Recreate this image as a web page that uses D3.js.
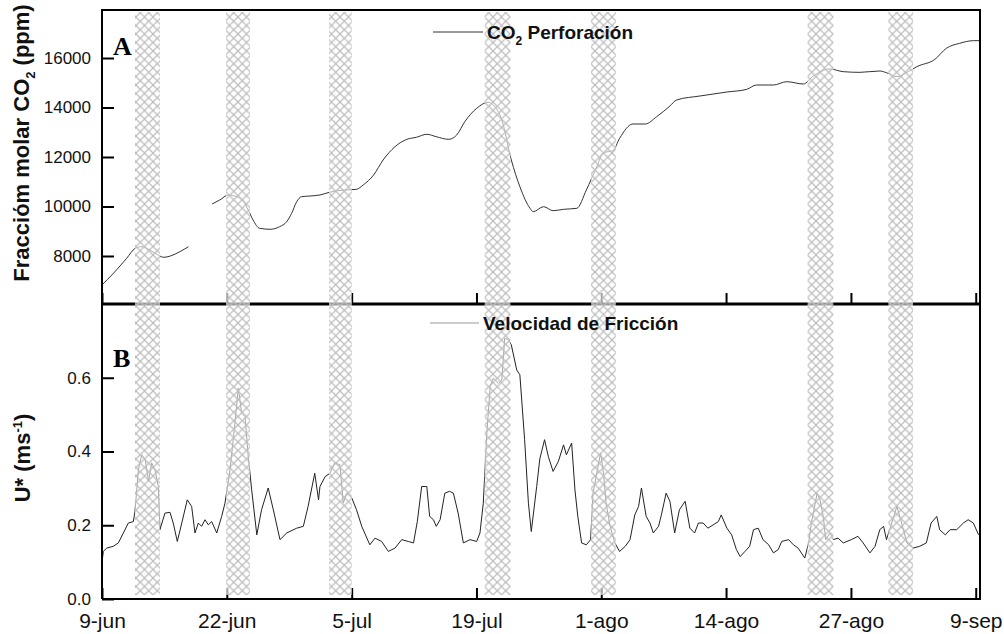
<!DOCTYPE html>
<html>
<head>
<meta charset="utf-8">
<script src="https://cdn.jsdelivr.net/npm/d3@7"></script>
<style>
  body { margin: 0; background: #fff; }
  text { font-family: "Liberation Sans", Arial, sans-serif; }
</style>
</head>
<body>
<script>
// dates as days after 9-jun
var tickDays = [0, 13.14, 26.29, 39.43, 52.57, 65.71, 78.86, 92];
var tickLabels = ["9-jun", "22-jun", "5-jul", "19-jul", "1-ago", "14-ago", "27-ago", "9-sep"];

// hatched periods (start / end day)
var bandStart = [3.47, 13.06, 23.9, 40.3, 51.5, 74.3, 82.8];
var bandEnd   = [6.11, 15.58, 26.3, 43.0, 54.1, 77.0, 85.4];

// panel A: CO2 in the borehole (null = no data)
var co2Day = [0, 1.2, 2.6, 3.5, 4.2, 4.7, 5.6, 6.5, 7.2, 8.2,
  9.1, 10.3, 11.6, 12.4, 13.3, 14.2, 14.9, 15.4, 15.9, 16.6,
  17.7, 18.7, 19.45, 19.97, 20.5, 21.0, 21.9, 22.95, 24.0, 25.06,
  26.8, 27.5, 28.6, 29.6, 30.85, 32.1, 33.1, 34.2, 35.2, 36.5,
  37.35, 38.2, 39.45, 40.7, 41.2, 42.1, 43.1, 44.0, 45.07, 45.4,
  46.5, 47.5, 48.6, 50.0, 51.0, 52.1, 52.8, 53.8, 54.5, 55.9,
  57.2, 58.4, 59.8, 60.5, 62.97, 65.8, 67.9, 68.9, 70.7, 72.1,
  73.85, 74.9, 76.65, 78.05, 79.8, 81.9, 82.6, 83.7, 84.9, 85.8,
  87.7, 88.9, 90.3, 91.75, 92.45];
var co2Val = [6830, 7300, 7907, 8311, 8376, 8311, 8109, 7947, 8000, 8175,
  8376, null, 10101, 10263, 10465, 10396, 10194, 9859, 9455, 9119,
  9079, 9184, 9386, 9725, 10194, 10396, 10424, 10465, 10580, 10650,
  10694, 10869, 11273, 11879, 12416, 12714, 12796, 12917, 12820, 12714,
  12889, 13426, 13967, 14210, 14101, 13495, 11879, 10800, 9927, 9790,
  9992, 9830, 9886, 9927, 10667, 11608, 12174, 12255, 12754, 13333,
  13333, 13628, 14061, 14303, 14465, 14626, 14735, 14909, 14909, 15043,
  14950, 15273, 15556, 15448, 15421, 15475, 15407, 15245, 15448, 15650,
  15946, 16391, 16593, 16700, 16700];

// panel B: friction velocity
var uDay = [0, 0.14, 0.5, 1.19, 1.72, 2.25, 2.77, 3.3, 3.47, 3.83,
  4.18, 4.55, 4.9, 5.23, 5.58, 5.93, 6.1, 6.63, 7.16, 7.5,
  7.93, 8.4, 8.98, 9.44, 9.79, 10.14, 10.49, 10.85, 11.2, 11.55,
  12.08, 12.6, 12.95, 13.48, 14.0, 14.35, 14.71, 15.06, 15.4, 15.76,
  16.3, 16.8, 17.5, 18.04, 18.74, 19.45, 20.5, 21.2, 21.7, 22.4,
  22.8, 22.95, 23.5, 24.0, 24.5, 25.06, 25.4, 25.77, 26.3, 26.8,
  27.35, 28.2, 28.75, 29.45, 30.15, 30.85, 31.56, 32.25, 32.8, 33.2,
  33.66, 34.2, 34.5, 34.9, 35.2, 35.6, 36.1, 36.6, 37.0, 37.5,
  38.05, 38.75, 39.45, 39.8, 40.15, 40.5, 40.87, 41.2, 41.75, 42.1,
  42.4, 42.8, 43.1, 43.67, 44.0, 44.5, 44.9, 45.2, 45.77, 46.1,
  46.6, 47.0, 47.5, 48.05, 48.6, 48.9, 49.45, 49.8, 50.1, 50.5,
  51.0, 51.45, 51.7, 52.1, 52.5, 52.8, 53.1, 53.5, 54.0, 54.5,
  55.1, 55.6, 56.1, 56.5, 56.8, 57.3, 57.7, 58.05, 58.6, 58.9,
  59.4, 59.8, 60.3, 60.8, 61.4, 61.9, 62.4, 62.8, 63.3, 63.8,
  64.35, 64.9, 65.2, 65.8, 66.3, 66.8, 67.2, 67.7, 68.2, 68.6,
  69.1, 69.6, 70.2, 70.7, 71.2, 71.57, 72.3, 72.8, 73.3, 74.0,
  74.4, 74.7, 75.3, 75.6, 75.95, 76.2, 76.66, 77.0, 77.5, 78.05,
  78.9, 79.6, 80.15, 80.86, 81.4, 81.9, 82.3, 82.6, 83.15, 83.7,
  84.2, 84.75, 85.4, 86.1, 86.8, 87.3, 87.9, 88.2, 88.8, 89.3,
  90.0, 90.7, 91.2, 91.75, 92.3];
var uVal = [0.100, 0.129, 0.138, 0.143, 0.152, 0.179, 0.206, 0.210, 0.237, 0.350,
  0.391, 0.378, 0.319, 0.369, 0.350, 0.305, 0.188, 0.233, 0.235, 0.206,
  0.156, 0.206, 0.269, 0.251, 0.179, 0.206, 0.197, 0.215, 0.201, 0.210,
  0.179, 0.224, 0.260, 0.350, 0.477, 0.572, 0.504, 0.495, 0.386, 0.296,
  0.174, 0.242, 0.301, 0.242, 0.161, 0.179, 0.192, 0.197, 0.251, 0.341,
  0.269, 0.305, 0.332, 0.341, 0.369, 0.364, 0.260, 0.287, 0.274, 0.242,
  0.197, 0.147, 0.165, 0.156, 0.129, 0.138, 0.161, 0.156, 0.152, 0.210,
  0.305, 0.305, 0.224, 0.215, 0.197, 0.215, 0.287, 0.292, 0.287, 0.233,
  0.152, 0.161, 0.156, 0.179, 0.260, 0.441, 0.576, 0.599, 0.585, 0.594,
  0.707, 0.703, 0.689, 0.621, 0.608, 0.432, 0.260, 0.183, 0.305, 0.380,
  0.432, 0.386, 0.346, 0.373, 0.418, 0.391, 0.423, 0.296, 0.224, 0.152,
  0.147, 0.161, 0.287, 0.341, 0.396, 0.341, 0.256, 0.197, 0.152, 0.129,
  0.143, 0.161, 0.228, 0.251, 0.301, 0.224, 0.206, 0.179, 0.197, 0.228,
  0.287, 0.265, 0.179, 0.242, 0.265, 0.192, 0.179, 0.206, 0.206, 0.192,
  0.201, 0.210, 0.228, 0.192, 0.174, 0.134, 0.115, 0.129, 0.143, 0.188,
  0.192, 0.161, 0.147, 0.125, 0.134, 0.156, 0.161, 0.147, 0.138, 0.111,
  0.152, 0.206, 0.287, 0.269, 0.224, 0.161, 0.179, 0.161, 0.165, 0.152,
  0.161, 0.170, 0.152, 0.125, 0.143, 0.188, 0.197, 0.161, 0.206, 0.251,
  0.206, 0.152, 0.138, 0.143, 0.152, 0.206, 0.224, 0.188, 0.174, 0.188,
  0.188, 0.206, 0.215, 0.206, 0.174];

var co2Ticks = [8000, 10000, 12000, 14000, 16000];
var uTicks = [0.0, 0.2, 0.4, 0.6];

// plot edges (window.top is read-only, so no "top" here)
var pL = 102, pR = 980, pT = 10, pM = 304, pB = 599;

var svg = d3.select("body").append("svg")
    .attr("width", 1004)
    .attr("height", 634);

var x = d3.scaleLinear().domain([0, 92.45]).range([pL, pR]);
var yA = d3.scaleLinear().domain([6060, 17940]).range([pM, pT]);
var yB = d3.scaleLinear().domain([0, 0.8]).range([pB, pM]);

// hatch pattern for the shaded periods
var pat = svg.append("defs").append("pattern")
    .attr("id", "hatch")
    .attr("patternUnits", "userSpaceOnUse")
    .attr("width", 8.5)
    .attr("height", 8.5);
pat.append("path")
    .attr("d", "M0,0L8.5,8.5M8.5,0L0,8.5")
    .attr("stroke", "#bcbcbc")
    .attr("stroke-width", 1.2);

// lines
var co2Data = co2Day.map(function(d, i) { return {d: d, v: co2Val[i]}; });
var uData = uDay.map(function(d, i) { return {d: d, v: uVal[i]}; });

var lineA = d3.line()
    .defined(function(d) { return d.v != null; })
    .x(function(d) { return x(d.d); })
    .y(function(d) { return yA(d.v); })
    .curve(d3.curveMonotoneX);

var lineB = d3.line()
    .x(function(d) { return x(d.d); })
    .y(function(d) { return yB(d.v); });

svg.append("path")
    .datum(co2Data)
    .attr("d", lineA)
    .attr("fill", "none")
    .attr("stroke", "#333")
    .attr("stroke-width", 1);

svg.append("path")
    .datum(uData)
    .attr("d", lineB)
    .attr("fill", "none")
    .attr("stroke", "#222")
    .attr("stroke-width", 1);

// axes
var gA = svg.append("g")
    .attr("transform", "translate(" + pL + ",0)")
    .call(d3.axisLeft(yA).tickValues(co2Ticks).tickSize(-12).tickPadding(11)
        .tickFormat(d3.format("d")));
var gB = svg.append("g")
    .attr("transform", "translate(" + pL + ",0)")
    .call(d3.axisLeft(yB).tickValues(uTicks).tickSize(-12).tickPadding(11)
        .tickFormat(d3.format(".1f")));
var gX1 = svg.append("g")
    .attr("transform", "translate(0," + pM + ")")
    .call(d3.axisBottom(x).tickValues(tickDays).tickSize(-11).tickFormat(""));
var gX2 = svg.append("g")
    .attr("transform", "translate(0," + pB + ")")
    .call(d3.axisBottom(x).tickValues(tickDays).tickSize(-11).tickPadding(14)
        .tickFormat(function(d, i) { return tickLabels[i]; }));

[gA, gB, gX1, gX2].forEach(function(g) {
  g.select(".domain").remove();
  g.attr("font-family", null);
  g.selectAll(".tick line").attr("stroke", "#000").attr("stroke-width", 2);
  g.selectAll(".tick text").attr("fill", "#111");
});
gA.attr("font-size", 17);
gB.attr("font-size", 17);
gX2.attr("font-size", 21);

// frame
var frame = svg.append("g").attr("stroke", "#000").attr("fill", "none");
frame.append("path")
    .attr("d", "M" + pL + "," + pB + "V" + pT + "H" + pR + "V" + pB + "H" + pL)
    .attr("stroke-width", 2);
frame.append("line")
    .attr("x1", pL).attr("x2", pR)
    .attr("y1", pM).attr("y2", pM)
    .attr("stroke-width", 3);

// shaded periods on top
var bands = svg.append("g");
bandStart.forEach(function(s, i) {
  bands.append("rect")
      .attr("x", x(s)).attr("y", pT + 2)
      .attr("width", x(bandEnd[i]) - x(s))
      .attr("height", pB - pT - 6)
      .attr("fill", "#fff")
      .attr("fill-opacity", 0.6);
  bands.append("rect")
      .attr("x", x(s)).attr("y", pT + 2)
      .attr("width", x(bandEnd[i]) - x(s))
      .attr("height", pB - pT - 6)
      .attr("fill", "url(#hatch)");
});

// legends
svg.append("line")
    .attr("x1", 433).attr("x2", 483).attr("y1", 32).attr("y2", 32)
    .attr("stroke", "#333").attr("stroke-width", 1);
var legA = svg.append("text")
    .attr("x", 487).attr("y", 39)
    .attr("font-size", 19).attr("font-weight", "bold").attr("fill", "#111");
legA.append("tspan").text("CO");
legA.append("tspan").attr("dy", 6).attr("font-size", 12).text("2");
legA.append("tspan").attr("dy", -6).text(" Perforación");

svg.append("line")
    .attr("x1", 430).attr("x2", 479).attr("y1", 323).attr("y2", 323)
    .attr("stroke", "#999").attr("stroke-width", 1);
svg.append("text")
    .attr("x", 483).attr("y", 330)
    .attr("font-size", 19).attr("font-weight", "bold").attr("fill", "#111")
    .text("Velocidad de Fricción");

// panel letters
svg.append("text")
    .attr("x", 113).attr("y", 55)
    .style("font-family", "'Liberation Serif', 'Times New Roman', serif")
    .attr("font-size", 26).attr("font-weight", "bold")
    .text("A");
svg.append("text")
    .attr("x", 113).attr("y", 367)
    .style("font-family", "'Liberation Serif', 'Times New Roman', serif")
    .attr("font-size", 26).attr("font-weight", "bold")
    .text("B");

// axis titles
var tA = svg.append("text")
    .attr("transform", "translate(29,143) rotate(-90)")
    .attr("text-anchor", "middle")
    .attr("font-size", 22).attr("font-weight", "bold").attr("fill", "#111");
tA.append("tspan").text("Fracciόm molar CO");
tA.append("tspan").attr("dy", 6).attr("font-size", 13).text("2");
tA.append("tspan").attr("dy", -6).text(" (ppm)");

var tB = svg.append("text")
    .attr("transform", "translate(30,458) rotate(-90)")
    .attr("text-anchor", "middle")
    .attr("font-size", 22).attr("font-weight", "bold").attr("fill", "#111");
tB.append("tspan").text("U* (ms");
tB.append("tspan").attr("dy", -8).attr("font-size", 13).text("-1");
tB.append("tspan").attr("dy", 8).text(")");
</script>
</body>
</html>
